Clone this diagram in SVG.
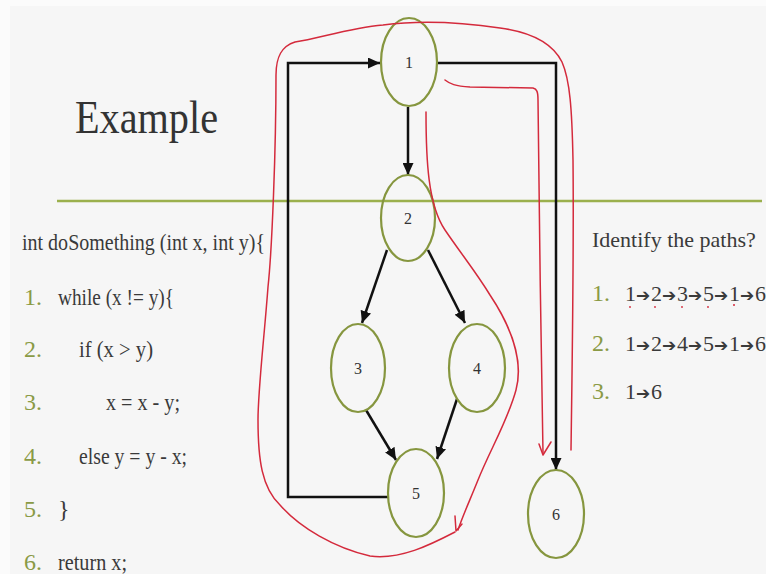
<svg xmlns="http://www.w3.org/2000/svg" width="766" height="574" viewBox="0 0 766 574">
<defs>
<style>
.t{font-family:"Liberation Serif","Times New Roman",serif;fill:#3a3a3a;font-size:24px}
.p{font-family:"Liberation Serif","Times New Roman",serif;fill:#3a3a3a;font-size:22px}
.title{font-family:"Liberation Serif","Times New Roman",serif;fill:#333;font-size:46px}
.n{font-family:"Liberation Serif","Times New Roman",serif;fill:#8a9a45;font-size:24px}
.a{font-family:"DejaVu Sans",sans-serif;font-size:17px}
.lbl{font-family:"Liberation Serif","Times New Roman",serif;fill:#333;font-size:16px;text-anchor:middle}
.node{fill:none;stroke:#86963f;stroke-width:2.2}
.edge{fill:none;stroke:#111;stroke-width:2.5}
.red{fill:none;stroke:#d42a3c;stroke-width:1.5;stroke-linecap:round;stroke-linejoin:round}
</style>
<marker id="ah" markerUnits="userSpaceOnUse" markerWidth="13" markerHeight="11" refX="12" refY="5.5" orient="auto">
<path d="M0,0 L12,5.5 L0,11 z" fill="#111"/>
</marker>
</defs>
<rect x="0" y="0" width="766" height="574" fill="#fbfbfb"/>
<rect x="10" y="6" width="756" height="568" fill="#f6f6f6"/>

<text class="title" x="75" y="133" textLength="143" lengthAdjust="spacingAndGlyphs">Example</text>
<line x1="57" y1="201" x2="762" y2="201" stroke="#9bb04d" stroke-width="2.5"/>

<g id="code">
<text class="t" x="22" y="250" textLength="243" lengthAdjust="spacingAndGlyphs">int doSomething (int x, int y){</text>
<text class="n" x="24" y="305">1.</text>
<text class="t" x="58" y="305" textLength="116" lengthAdjust="spacingAndGlyphs">while (x != y){</text>
<text class="n" x="24" y="357">2.</text>
<text class="t" x="79" y="357" textLength="74" lengthAdjust="spacingAndGlyphs">if (x &gt; y)</text>
<text class="n" x="24" y="410">3.</text>
<text class="t" x="106" y="410" textLength="74" lengthAdjust="spacingAndGlyphs">x = x - y;</text>
<text class="n" x="24" y="464">4.</text>
<text class="t" x="79" y="464" textLength="108" lengthAdjust="spacingAndGlyphs">else y = y - x;</text>
<text class="n" x="24" y="517">5.</text>
<text class="t" x="58" y="517">}</text>
<text class="n" x="24" y="570">6.</text>
<text class="t" x="58" y="570" textLength="69" lengthAdjust="spacingAndGlyphs">return x;</text>
</g>

<g id="paths-text">
<text class="p" x="592" y="247">Identify the paths?</text>
<text class="n" x="592" y="301">1.</text>
<text class="p" y="301"><tspan x="625">1</tspan><tspan class="a" x="636">➔</tspan><tspan x="651">2</tspan><tspan class="a" x="662">➔</tspan><tspan x="677">3</tspan><tspan class="a" x="688">➔</tspan><tspan x="703">5</tspan><tspan class="a" x="714">➔</tspan><tspan x="729">1</tspan><tspan class="a" x="740">➔</tspan><tspan x="755">6</tspan></text>
<text class="n" x="592" y="351">2.</text>
<text class="p" y="351"><tspan x="625">1</tspan><tspan class="a" x="636">➔</tspan><tspan x="651">2</tspan><tspan class="a" x="662">➔</tspan><tspan x="677">4</tspan><tspan class="a" x="688">➔</tspan><tspan x="703">5</tspan><tspan class="a" x="714">➔</tspan><tspan x="729">1</tspan><tspan class="a" x="740">➔</tspan><tspan x="755">6</tspan></text>
<text class="n" x="592" y="399">3.</text>
<text class="p" y="399"><tspan x="625">1</tspan><tspan class="a" x="636">➔</tspan><tspan x="651">6</tspan></text>
<g fill="#d42a3c">
<circle cx="630" cy="307" r="0.9"/><circle cx="655" cy="307" r="0.9"/><circle cx="682" cy="307" r="0.9"/><circle cx="708" cy="307" r="0.9"/><circle cx="734" cy="305" r="1"/>
</g>
</g>

<g id="connectors">
<path class="edge" d="M408,107 L408,175" marker-end="url(#ah)"/>
<path class="edge" d="M387,250 L362,323" marker-end="url(#ah)"/>
<path class="edge" d="M428,250 L465,323" marker-end="url(#ah)"/>
<path class="edge" d="M366,410 L396,460" marker-end="url(#ah)"/>
<path class="edge" d="M457,399 L437,459" marker-end="url(#ah)"/>
<path class="edge" d="M388,497 L288,497 L288,63 L380,63" marker-end="url(#ah)"/>
<path class="edge" d="M438,63 L556,63 L556,470" marker-end="url(#ah)"/>
</g>

<g id="node1"><ellipse class="node" cx="409" cy="62" rx="28" ry="44"/><text class="lbl" x="409" y="68">1</text></g>
<g id="node2"><ellipse class="node" cx="408" cy="218" rx="27" ry="43"/><text class="lbl" x="408" y="224">2</text></g>
<g id="node3"><ellipse class="node" cx="358" cy="368" rx="27" ry="44"/><text class="lbl" x="358" y="374">3</text></g>
<g id="node4"><ellipse class="node" cx="477" cy="368" rx="28" ry="44"/><text class="lbl" x="477" y="374">4</text></g>
<g id="node5"><ellipse class="node" cx="416" cy="493" rx="28" ry="44"/><text class="lbl" x="416" y="499">5</text></g>
<g id="node6"><ellipse class="node" cx="556" cy="514" rx="28" ry="44"/><text class="lbl" x="556" y="520">6</text></g>

<g id="annotations">
<path class="red" d="M571,450 C572,380 574,250 573,160 C572,110 570,80 562,62 C552,42 530,32 500,28 C460,22 420,20 383,25 C350,28 320,38 295,42 C282,46 276,56 276,75 C276,150 272,250 268,287 C264,340 258,390 258,420 C258,460 262,488 280,505 C300,528 335,548 370,556 C400,560 430,545 455,532"/>
<path class="red" d="M426,112 C426,160 428,205 445,230 C462,255 476,272 490,295 C510,325 524,360 516,390 C508,420 490,450 478,480 C470,500 463,515 458,530"/>
<path class="red" d="M455,516 L456,531 L462,524"/>
<path class="red" d="M445,80 C450,84 455,86 470,87 L533,88 C537,89 538,92 538,100 C539,200 541,350 543,453"/>
<path class="red" d="M539,444 L543,455 L551,442"/>
</g>
</svg>
